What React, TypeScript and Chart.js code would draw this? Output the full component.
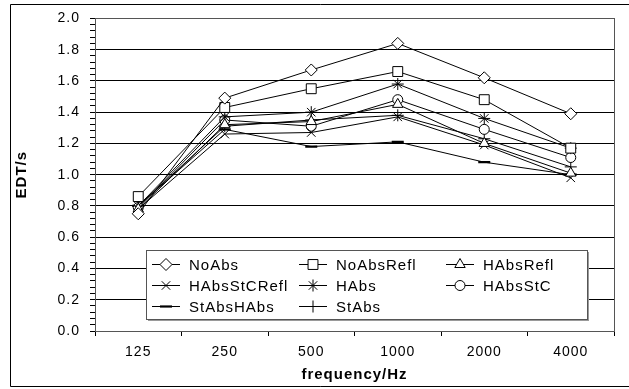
import React, { useEffect, useRef } from 'react';
import { Chart, registerables } from 'chart.js';
import { drawPoint } from 'chart.js/helpers';

Chart.register(...registerables);

const categories = ['125', '250', '500', '1000', '2000', '4000'];
const seriesNames = ['NoAbs', 'NoAbsRefl', 'HAbsRefl', 'HAbsStCRefl', 'HAbs', 'HAbsStC', 'StAbsHAbs', 'StAbs'];
const noAbs = [0.75, 1.49, 1.67, 1.84, 1.62, 1.39];
const noAbsRefl = [0.86, 1.43, 1.55, 1.66, 1.48, 1.17];
const hAbsRefl = [0.78, 1.32, 1.34, 1.45, 1.2, 1.01];
const hAbsStCRefl = [0.78, 1.26, 1.27, 1.37, 1.19, 0.98];
const hAbs = [0.8, 1.37, 1.4, 1.58, 1.36, 1.17];
const hAbsStC = [0.79, 1.35, 1.31, 1.48, 1.29, 1.11];
const stAbsHAbs = [0.8, 1.29, 1.18, 1.21, 1.08, 1.0];
const stAbs = [0.8, 1.31, 1.35, 1.38, 1.23, 1.05];
const seriesValues = [noAbs, noAbsRefl, hAbsRefl, hAbsStCRefl, hAbs, hAbsStC, stAbsHAbs, stAbs];
const yMin = 0;
const yMax = 2;
const yMajor = 0.2;
const yMinor = 0.04;

const markerStyles = ['rectRot', 'rect', 'triangle', 'crossRot', 'star', 'circle', 'line', 'cross'];
const markerRadius = [6, 7, 6, 6, 6, 5, 6, 6];
const markerBorder = [1, 1, 1, 1, 1, 1, 2.2, 1];

const FONT = "'Liberation Sans', Arial, sans-serif";

const frameAndLegend = {
  id: 'frameAndLegend',
  beforeDraw(chart: any) {
    const ctx = chart.ctx;
    ctx.letterSpacing = '1px';
  },
  beforeDatasetsDraw(chart: any) {
    const { ctx, chartArea: a } = chart;
    ctx.save();
    ctx.strokeStyle = '#555';
    ctx.lineWidth = 1;
    ctx.strokeRect(Math.round(a.left) + 0.5, Math.round(a.top) + 0.5, Math.round(a.right - a.left), Math.round(a.bottom - a.top));
    ctx.restore();
  },
  afterDraw(chart: any) {
    const ctx = chart.ctx;
    ctx.save();
    // outer frame
    ctx.strokeStyle = '#000';
    ctx.lineWidth = 1;
    ctx.beginPath();
    ctx.moveTo(640, 4.5);
    ctx.lineTo(10.5, 4.5);
    ctx.lineTo(10.5, 386.5);
    ctx.lineTo(640, 386.5);
    ctx.stroke();

    // legend box
    const L = 146, T = 250, W = 441, H = 69;
    ctx.fillStyle = '#9a9a9a';
    ctx.fillRect(L + 2, T + 2, W, H);
    ctx.fillStyle = '#fff';
    ctx.fillRect(L, T, W, H);
    ctx.strokeStyle = '#555';
    ctx.strokeRect(L + 0.5, T + 0.5, W, H);

    ctx.font = `15px ${FONT}`;
    ctx.letterSpacing = '1px';
    ctx.textBaseline = 'middle';
    ctx.textAlign = 'left';
    chart.data.datasets.forEach((ds: any, i: number) => {
      const col = i % 3;
      const row = Math.floor(i / 3);
      const x0 = 152 + col * 147;
      const y = 264.5 + row * 21;
      ctx.strokeStyle = '#000';
      ctx.lineWidth = 1;
      ctx.beginPath();
      ctx.moveTo(x0, y);
      ctx.lineTo(x0 + 28, y);
      ctx.stroke();
      ctx.fillStyle = '#fff';
      ctx.strokeStyle = '#000';
      ctx.lineWidth = ds.pointBorderWidth;
      drawPoint(ctx, { pointStyle: ds.pointStyle, radius: ds.pointRadius, rotation: 0, borderWidth: ds.pointBorderWidth }, x0 + 14, y);
      ctx.fillStyle = '#000';
      ctx.fillText(ds.label, x0 + 37, y + 1);
    });
    ctx.restore();
  },
};

export default function App() {
  const ref = useRef<HTMLCanvasElement>(null);
  useEffect(() => {
    if (!ref.current) return;
    const isMajor = (v: number) => Math.abs(v / yMajor - Math.round(v / yMajor)) < 1e-6;
    const chart = new Chart(ref.current, {
      type: 'line',
      data: {
        labels: categories,
        datasets: seriesNames.map((name, i) => ({
          label: name,
          data: seriesValues[i],
          borderColor: '#000',
          borderWidth: 1,
          backgroundColor: '#fff',
          pointStyle: markerStyles[i] as any,
          pointRadius: markerRadius[i],
          pointBorderWidth: markerBorder[i],
          pointBackgroundColor: '#fff',
          pointBorderColor: '#000',
          tension: 0,
          fill: false,
        })),
      },
      options: {
        animation: false,
        responsive: false,
        maintainAspectRatio: false,
        devicePixelRatio: 1,
        layout: { padding: { left: 10, right: 15, top: 17, bottom: 0 } },
        plugins: {
          legend: { display: false },
          tooltip: { enabled: false },
          title: { display: false },
        },
        scales: {
          x: {
            type: 'category',
            offset: true,
            afterFit: (s: any) => { s.height = 58; },
            grid: {
              offset: true,
              drawOnChartArea: false,
              drawTicks: true,
              tickLength: 5,
              color: '#000',
            },
            border: { display: true, color: '#000' },
            ticks: { color: '#000', font: { family: FONT, size: 14 }, padding: 8, maxRotation: 0, autoSkip: false },
            title: {
              display: true,
              text: 'frequency/Hz',
              color: '#000',
              font: { family: FONT, size: 15, weight: 'bold' },
              padding: { top: 4, bottom: 5 },
            },
          },
          y: {
            type: 'linear',
            min: yMin,
            max: yMax,
            afterFit: (s: any) => { s.width = 85; },
            grid: {
              drawTicks: true,
              tickLength: 5,
              color: (c: any) => (c.tick && isMajor(c.tick.value) ? '#000' : 'rgba(0,0,0,0)'),
              tickColor: '#000',
            },
            border: { display: true, color: '#000' },
            ticks: {
              stepSize: yMinor,
              autoSkip: false,
              color: '#000',
              padding: 10,
              font: { family: FONT, size: 14 },
              callback: (v: any) => (isMajor(Number(v)) ? Number(v).toFixed(1) : ''),
            },
            title: {
              display: true,
              text: 'EDT/s',
              color: '#000',
              font: { family: FONT, size: 15, weight: 'bold' },
              padding: { top: 3, bottom: 4 },
            },
          },
        },
      },
      plugins: [frameAndLegend],
    });
    return () => chart.destroy();
  }, []);
  return (
    <div style={{ position: 'absolute', left: 0, top: 0, width: 629, height: 389, background: '#fff' }}>
      <canvas ref={ref} width={629} height={389} style={{ width: 629, height: 389, display: 'block' }} />
    </div>
  );
}
